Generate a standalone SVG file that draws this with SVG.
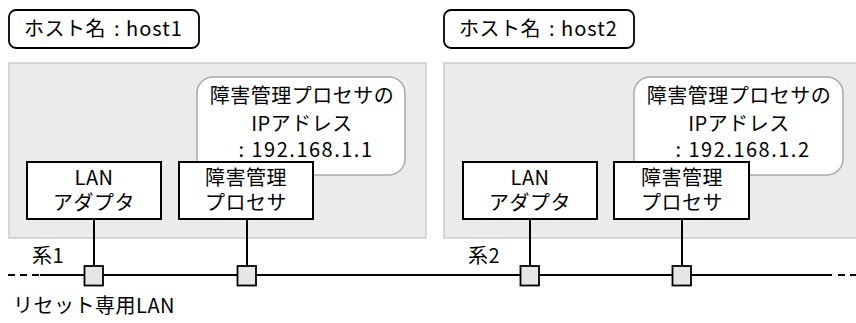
<svg xmlns="http://www.w3.org/2000/svg" width="856" height="323" viewBox="0 0 856 323">
<style>
text{font-family:"Noto Sans CJK JP","Noto Sans",sans-serif;font-size:20px;fill:#000;letter-spacing:0.5px}
.c{text-anchor:middle}
.ip{letter-spacing:1.5px}
.lat{letter-spacing:1px}
.host{fill:#ebebeb;stroke:#cccccc;stroke-width:1.5}
.label{fill:#fff;stroke:#000;stroke-width:1.8}
.callout{fill:#fff;stroke:#aaaaaa;stroke-width:1.5}
.box{fill:#fff;stroke:#000;stroke-width:2}
.port{fill:#e6e6e6;stroke:#000;stroke-width:1.8}
.wire{stroke:#000;stroke-width:2;fill:none}
.dash{stroke:#000;stroke-width:2;fill:none;stroke-dasharray:7 5}
</style>
<g id="host1">
<rect class="host" x="9" y="63" width="417" height="175"/>
</g>
<g id="host2">
<rect class="host" x="444" y="63" width="414" height="175"/>
</g>
<g id="host1-label">
<rect class="label" x="9" y="10" width="190" height="38" rx="7"/>
<text x="24" y="36">ホスト名<tspan x="114">:</tspan><tspan class="lat" x="126">host1</tspan></text>
</g>
<g id="host2-label">
<rect class="label" x="444" y="10" width="190" height="38" rx="7"/>
<text x="459" y="36">ホスト名<tspan x="549">:</tspan><tspan class="lat" x="561">host2</tspan></text>
</g>
<g id="ip1">
<rect class="callout" x="197" y="77" width="208" height="98" rx="16"/>
<text class="c" x="302" y="103">障害管理プロセサの</text>
<text class="c" x="302" y="131">IPアドレス</text>
<text class="c ip" x="306" y="157">: 192.168.1.1</text>
</g>
<g id="ip2">
<rect class="callout" x="634" y="77" width="209" height="98" rx="16"/>
<text class="c" x="739" y="103">障害管理プロセサの</text>
<text class="c" x="739" y="131">IPアドレス</text>
<text class="c ip" x="743" y="157">: 192.168.1.2</text>
</g>
<g id="lan1">
<rect class="box" x="27" y="162" width="134" height="57"/>
<text class="c" x="94" y="185">LAN</text>
<text class="c" x="94" y="210">アダプタ</text>
</g>
<g id="proc1">
<rect class="box" x="179" y="162" width="134" height="57"/>
<text class="c" x="246" y="185">障害管理</text>
<text class="c" x="246" y="210">プロセサ</text>
</g>
<g id="lan2">
<rect class="box" x="463" y="162" width="134" height="57"/>
<text class="c" x="530" y="185">LAN</text>
<text class="c" x="530" y="210">アダプタ</text>
</g>
<g id="proc2">
<rect class="box" x="614" y="162" width="135" height="57"/>
<text class="c" x="682" y="185">障害管理</text>
<text class="c" x="682" y="210">プロセサ</text>
</g>
<g id="connectors">
<line class="dash" x1="8" y1="275" x2="40" y2="275"/>
<line class="wire" x1="40" y1="275" x2="832" y2="275"/>
<line class="dash" x1="838" y1="275" x2="856" y2="275" stroke-dasharray="10 4"/>
<line class="wire" x1="94" y1="219" x2="94" y2="266"/>
<line class="wire" x1="247" y1="219" x2="247" y2="266"/>
<line class="wire" x1="530" y1="219" x2="530" y2="266"/>
<line class="wire" x1="682" y1="219" x2="682" y2="266"/>
</g>
<g id="ports">
<rect class="port" x="84.5" y="266" width="18.5" height="19.5"/>
<rect class="port" x="237.5" y="266" width="18.5" height="19.5"/>
<rect class="port" x="520.5" y="266" width="18.5" height="19.5"/>
<rect class="port" x="672.5" y="266" width="18.5" height="19.5"/>
</g>
<g id="labels">
<text x="32" y="263">系1</text>
<text x="468" y="263">系2</text>
<text x="13" y="313">リセット専用LAN</text>
</g>
</svg>
